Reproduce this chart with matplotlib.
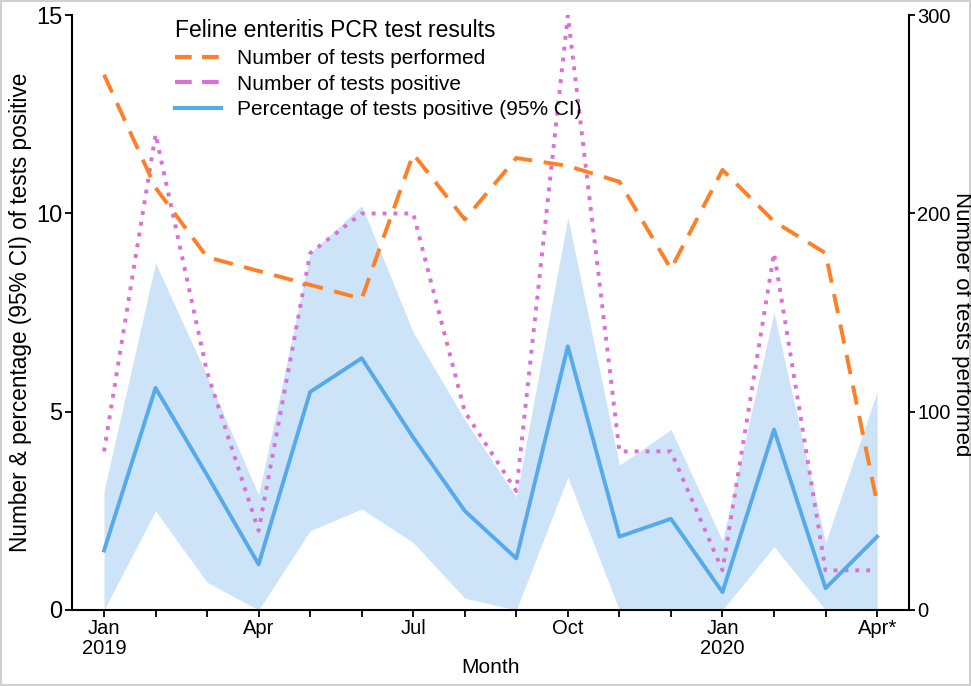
import matplotlib
matplotlib.use("Agg")
import matplotlib.pyplot as plt
from matplotlib.lines import Line2D
import numpy as np

plt.rcParams['font.family'] = ['Liberation Sans', 'DejaVu Sans']

months = ["Jan\n2019", "Feb", "Mar", "Apr", "May", "Jun", "Jul", "Aug", "Sep",
          "Oct", "Nov", "Dec", "Jan\n2020", "Feb", "Mar", "Apr*"]
tests_performed = [270, 213, 178, 171, 164, 157, 230, 197, 228, 224, 216, 172, 222, 196, 180, 54]
tests_positive = [4, 12, 6, 2, 9, 10, 10, 5, 3, 15, 4, 4, 1, 9, 1, 1]
pct_positive = [1.5, 5.6, 3.4, 1.15, 5.5, 6.35, 4.35, 2.5, 1.3, 6.65, 1.85, 2.3, 0.45, 4.55, 0.55, 1.85]
ci_upper = [3.0, 8.75, 5.9, 2.9, 9.0, 10.2, 7.0, 4.8, 2.85, 9.9, 3.65, 4.55, 1.75, 7.5, 1.7, 5.5]
ci_lower = [0.0, 2.5, 0.7, 0.0, 2.0, 2.55, 1.7, 0.3, 0.0, 3.35, 0.0, 0.0, 0.0, 1.6, 0.0, 0.0]
labelled_ticks = {0: "Jan\n2019", 3: "Apr", 6: "Jul", 9: "Oct", 12: "Jan\n2020", 15: "Apr*"}

c_orange = "#FF7F27"
c_pink = "#DA70D6"
c_blue = "#56AAEA"
c_fill = "#CDE4F8"

fig = plt.figure(figsize=(9.71, 6.86), dpi=100)
fig.patch.set_edgecolor("#D0D0D0")
fig.patch.set_linewidth(1.5)
ax = fig.add_axes([0.0742, 0.1108, 0.862, 0.867])
x = np.arange(len(months))

ax.fill_between(x, ci_lower, ci_upper, color=c_fill, linewidth=0, zorder=1)
ax.plot(x, pct_positive, color=c_blue, lw=2.8, zorder=3)
ax.plot(x, tests_positive, color=c_pink, lw=2.8, linestyle=(0, (1, 1.8)), zorder=2)

ax2 = ax.twinx()
ax2.plot(x, tests_performed, color=c_orange, lw=2.8, linestyle=(0, (5, 3)))

ax.set_xlim(-0.62, 15.62)
ax.set_ylim(0, 15)
ax2.set_ylim(0, 300)
ax.set_yticks([0, 5, 10, 15])
ax2.set_yticks([0, 100, 200, 300])
ax.set_xticks(x)
ax.set_xticklabels([labelled_ticks.get(i, "") for i in x])

for a in (ax, ax2):
    a.spines['top'].set_visible(False)
    a.spines['left'].set_linewidth(1.5)
    a.spines['right'].set_linewidth(1.5)
    a.spines['bottom'].set_linewidth(1.5)
ax2.spines['left'].set_visible(False)
ax.spines['right'].set_visible(False)
ax2.spines['bottom'].set_visible(False)

ax.tick_params(axis='y', labelsize=17, width=1.3, length=5, pad=2)
ax2.tick_params(axis='y', labelsize=14.5, width=1.3, length=4, pad=2)
ax.tick_params(axis='x', labelsize=14.5, width=1.3, length=5, pad=1.5)
for lab in ax.get_xticklabels():
    lab.set_family(['Liberation Sans Narrow', 'Liberation Sans', 'DejaVu Sans'])
    lab.set_linespacing(1.05)

ax.set_xlabel("Month", fontsize=15, labelpad=0)
ax.set_ylabel("Number & percentage (95% CI) of tests positive", fontsize=16.3, labelpad=3)
ax2.set_ylabel("Number of tests performed", fontsize=16, rotation=-90,
               ha='center', va='center')
ax2.yaxis.set_label_coords(1.0625, 0.48)

handles = [
    Line2D([], [], color=c_orange, lw=3, linestyle=(0, (4, 2.5))),
    Line2D([], [], color=c_pink, lw=3, linestyle=(0, (4, 2.5))),
    Line2D([], [], color=c_blue, lw=3),
]
labels = ["Number of tests performed", "Number of tests positive",
          "Percentage of tests positive (95% CI)"]
leg = ax2.legend(handles, labels, title="Feline enteritis PCR test results",
                 loc='upper left', bbox_to_anchor=(0.123, 0.993), frameon=False,
                 fontsize=15, title_fontsize=16.5, handlelength=2.2, handletextpad=0.8,
                 labelspacing=0.32, borderaxespad=0, borderpad=0)
leg._legend_box.align = "left"

fig.savefig("out.png", dpi=100)
